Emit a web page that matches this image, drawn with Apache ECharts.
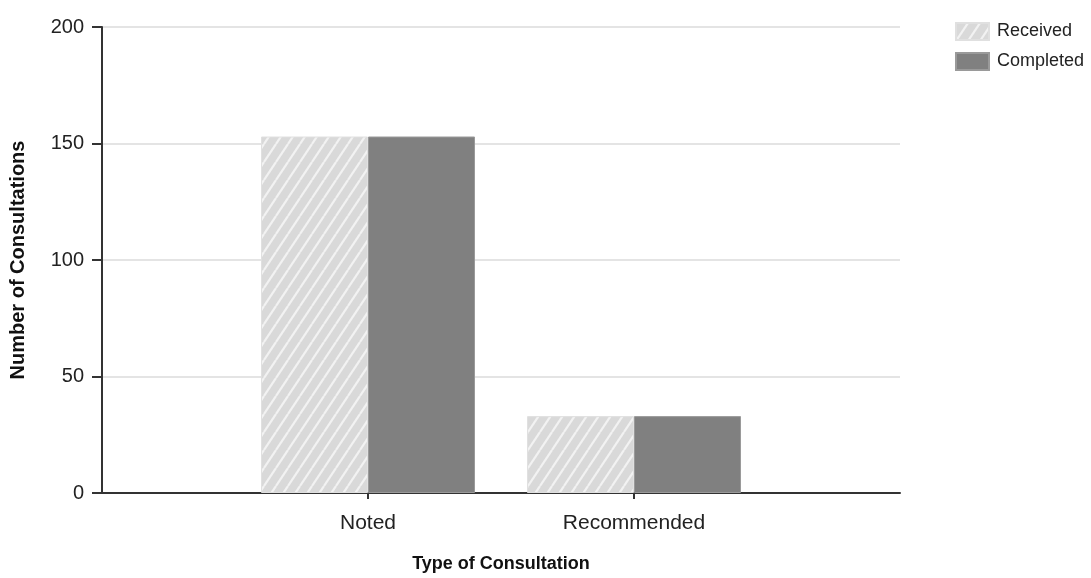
<!DOCTYPE html>
<html>
<head>
<meta charset="utf-8">
<script src="https://cdn.jsdelivr.net/npm/echarts@6/dist/echarts.min.js"></script>
<style>
html,body{margin:0;padding:0;background:#fff;overflow:hidden;}
#chart{width:1091px;height:578px;}
</style>
</head>
<body>
<div id="chart"></div>
<script>
// Data
const categories = ['', 'Noted', 'Recommended', ''];
const seriesNames = ['Received', 'Completed'];
const receivedValues = [null, 153, 33, null];
const completedValues = [null, 153, 33, null];
const yTicks = [0, 50, 100, 150, 200];

const sans = '"Liberation Sans", Arial, sans-serif';

function hatch() {
  const w = 12, h = 18;
  const c = document.createElement('canvas');
  c.width = w; c.height = h;
  const g = c.getContext('2d');
  g.fillStyle = '#d9d9d9';
  g.fillRect(0, 0, w, h);
  g.strokeStyle = '#f2f2f2';
  g.lineWidth = 2.2;
  for (const dx of [-w, 0, w]) {
    g.beginPath();
    g.moveTo(dx, h);
    g.lineTo(dx + w, 0);
    g.stroke();
  }
  return c;
}
const hatchPattern = { image: hatch(), repeat: 'repeat' };

const chart = echarts.init(document.getElementById('chart'), null, { renderer: 'canvas' });
chart.setOption({
  animation: false,
  backgroundColor: '#ffffff',
  grid: { left: 99, right: 191, top: 27, bottom: 77, containLabel: false },
  legend: {
    orient: 'vertical',
    left: 950,
    top: 17,
    itemWidth: 33,
    itemHeight: 17,
    itemGap: 11,
    icon: 'rect',
    data: seriesNames,
    textStyle: { fontFamily: sans, fontSize: 18, color: '#222', padding: [0, 0, 0, 3] }
  },
  xAxis: {
    type: 'category',
    data: categories,
    boundaryGap: false,
    name: 'Type of Consultation',
    nameLocation: 'middle',
    nameGap: 62,
    nameTextStyle: { fontFamily: sans, fontSize: 18, fontWeight: 'bold', color: '#111' },
    axisLine: { lineStyle: { color: '#333', width: 2 } },
    axisTick: { show: true, length: 6, lineStyle: { color: '#333', width: 2 },
      interval: function (i) { return i === 1 || i === 2; } },
    axisLabel: { interval: 0, margin: 20, fontFamily: sans, fontSize: 21, color: '#222' },
    splitLine: { show: false }
  },
  yAxis: {
    type: 'value',
    min: 0,
    max: 200,
    interval: 50,
    name: 'Number of Consultations',
    nameLocation: 'middle',
    nameGap: 74,
    nameTextStyle: { fontFamily: sans, fontSize: 20, fontWeight: 'bold', color: '#111' },
    axisLine: { show: true, lineStyle: { color: '#333', width: 2 } },
    axisTick: { show: true, length: 10, lineStyle: { color: '#333', width: 2 } },
    axisLabel: { margin: 18, fontFamily: sans, fontSize: 20, color: '#222',
      formatter: function (v) { return yTicks.indexOf(v) >= 0 ? String(v) : ''; } },
    splitLine: { show: true, lineStyle: { color: '#e4e4e4', width: 2 } }
  },
  series: [
    {
      name: seriesNames[0],
      type: 'bar',
      data: receivedValues,
      barWidth: 107,
      barGap: '0%',
      itemStyle: { color: hatchPattern, borderColor: '#e0e0e0', borderWidth: 1 }
    },
    {
      name: seriesNames[1],
      type: 'bar',
      data: completedValues,
      barWidth: 107,
      barGap: '0%',
      itemStyle: { color: '#808080', borderColor: '#9a9a9a', borderWidth: 1 }
    }
  ]
});
</script>
</body>
</html>
